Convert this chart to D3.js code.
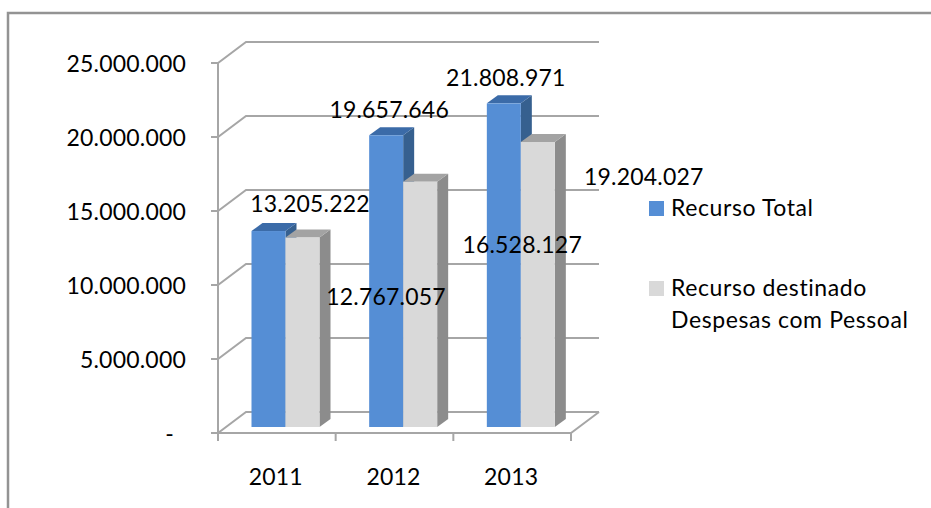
<!DOCTYPE html>
<html>
<head>
<meta charset="utf-8">
<script src="https://cdn.jsdelivr.net/npm/d3@7"></script>
<style>
  html, body { margin: 0; padding: 0; background: #fff; }
  svg { display: block; }
  text { font-family: Lato, "Open Sans", sans-serif; fill: #000; }
</style>
</head>
<body>
<svg id="chart" width="931" height="508"></svg>
<script>
// Chart data
const years = ["2011", "2012", "2013"];
const seriesNames = ["Recurso Total", "Recurso destinado Despesas com Pessoal"];
const recursoTotal = [13205222, 19657646, 21808971];
const despesasPessoal = [12767057, 16528127, 19204027];
const yTicks = [0, 5000000, 10000000, 15000000, 20000000, 25000000];

// Palette: front, top and side faces of each series
const blueFaces = { front: "#558ed5", top: "#3b6ba8", side: "#36608f" };
const greyFaces = { front: "#d9d9d9", top: "#a3a3a3", side: "#8c8c8c" };
const gridColor = "#a6a6a6";

const svg = d3.select("#chart");

// Frame of the chart area (open on the right and at the bottom)
svg.append("path")
  .attr("d", "M8,508V13H931")
  .attr("fill", "none").attr("stroke", "#939393").attr("stroke-width", 2.5);

// Front plane of the 3D box
const yFront = d3.scaleLinear().domain([0, 25000000]).range([433, 63]);
const xFront = d3.scaleBand().domain(years).range([218, 571]);
const wallDx = 28, wallDy = -21;

const grid = svg.append("g").attr("fill", "none").attr("stroke", gridColor).attr("stroke-width", 2);

// Floor outline and wall gridlines
grid.append("path").attr("d",
  `M${xFront.range()[0]},${yFront(0)}H${xFront.range()[1]}l${wallDx},${wallDy}`);
yTicks.forEach(t => {
  const y = yFront(t);
  grid.append("path").attr("d",
    `M${xFront.range()[0] - 7},${y}H${xFront.range()[0]}l${wallDx},${wallDy}H${xFront.range()[1] + wallDx}`);
});
grid.append("line")
  .attr("x1", xFront.range()[0]).attr("x2", xFront.range()[0])
  .attr("y1", yFront(0)).attr("y2", yFront(25000000));

// Category tick marks below the floor
[...years.map(d => xFront(d)), xFront.range()[1]].forEach(x => {
  grid.append("line").attr("x1", x).attr("x2", x)
    .attr("y1", yFront(0)).attr("y2", yFront(0) + 8);
});

// Value axis labels
const fmt = v => v === 0 ? "-" : d3.format(",")(v).replace(/,/g, ".");
const FONT = 23;
const NUMBER_SPACING = 0.2;
const LEGEND_SPACING = 0.6;
svg.append("g").selectAll("text").data(yTicks).join("text")
  .attr("x", d => d === 0 ? 174 : 186)
  .attr("y", d => yFront(d) + 1)
  .attr("dy", "0.35em")
  .attr("text-anchor", "end")
  .attr("font-size", FONT)
  .attr("letter-spacing", NUMBER_SPACING)
  .text(fmt);

// Category labels
svg.append("g").selectAll("text").data(years).join("text")
  .attr("x", d => xFront(d) + xFront.bandwidth() / 2 - 1)
  .attr("y", 477)
  .attr("dy", "0.35em")
  .attr("text-anchor", "middle")
  .attr("font-size", FONT)
  .attr("letter-spacing", NUMBER_SPACING)
  .text(d => d);

// Bars stand on a plane set back from the front of the box
const yBar = d3.scaleLinear().domain([0, 25000000]).range([427, 56]);
const barW = 34, depthX = 11, depthY = -8;
const barLeft = i => xFront(years[i]) + 33.5;

function drawBar(g, x, value, faces) {
  const top = yBar(value), base = yBar(0);
  g.append("path").attr("fill", faces.side).attr("d",
    `M${x + barW},${base}V${top}l${depthX},${depthY}V${base + depthY}Z`);
  g.append("path").attr("fill", faces.top).attr("d",
    `M${x},${top}l${depthX},${depthY}H${x + barW + depthX}l${-depthX},${-depthY}Z`);
  g.append("rect").attr("fill", faces.front)
    .attr("x", x).attr("y", top).attr("width", barW).attr("height", base - top);
}

const bars = svg.append("g");
years.forEach((y, i) => {
  // Blue is painted first so the grey neighbour sits against its side face
  drawBar(bars, barLeft(i), recursoTotal[i], blueFaces);
  drawBar(bars, barLeft(i) + barW, despesasPessoal[i], greyFaces);
});

// Value labels, nudged off their bars
const labelOffsets = {
  total: [[58.5, -27], [20, -25], [19, -25]],
  pessoal: [[100.5, 59.5], [119, 63], [123, 35]]
};
const labels = svg.append("g").attr("font-size", FONT)
  .attr("letter-spacing", NUMBER_SPACING).attr("text-anchor", "middle");
function addLabels(values, offs, shift) {
  values.forEach((v, i) => {
    labels.append("text")
      .attr("x", barLeft(i) + shift + offs[i][0])
      .attr("y", yBar(v) + offs[i][1])
      .attr("dy", "0.35em")
      .text(fmt(v));
  });
}
addLabels(recursoTotal, labelOffsets.total, 0);
addLabels(despesasPessoal, labelOffsets.pessoal, barW);

// Legend
const legend = svg.append("g").attr("font-size", FONT).attr("letter-spacing", LEGEND_SPACING);
legend.append("rect").attr("x", 649).attr("y", 201).attr("width", 15).attr("height", 15).attr("fill", blueFaces.front);
legend.append("text").attr("x", 671).attr("y", 208).attr("dy", "0.35em").text(seriesNames[0]);
legend.append("rect").attr("x", 649).attr("y", 281).attr("width", 15).attr("height", 15).attr("fill", greyFaces.front);
legend.append("text").attr("x", 671).attr("y", 288).attr("dy", "0.35em").text("Recurso destinado");
legend.append("text").attr("x", 671).attr("y", 320).attr("dy", "0.35em").text("Despesas com Pessoal");
</script>
</body>
</html>
